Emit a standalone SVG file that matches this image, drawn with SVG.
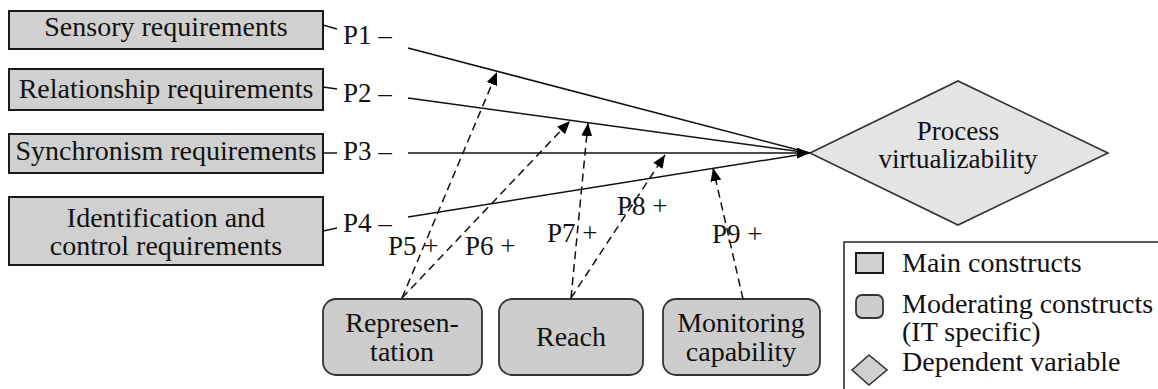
<svg xmlns="http://www.w3.org/2000/svg" width="1158" height="389" viewBox="0 0 1158 389">
<style>
text{font-family:'Liberation Serif','DejaVu Serif','Noto Serif',serif;font-size:28px;fill:#111}
.c{text-anchor:middle}
.lbl{font-size:27px}
.box{fill:#d0d0d0;stroke:#1a1a1a;stroke-width:2}
.mod{fill:#cdcdcd;stroke:#333;stroke-width:1.8}
.dia{fill:#e4e4e4;stroke:#333;stroke-width:1.6}
.ln{stroke:#111;stroke-width:1.5;fill:none}
.dash{stroke:#111;stroke-width:1.5;fill:none;stroke-dasharray:8 5}
</style>
<defs>
<marker id="ah" markerUnits="userSpaceOnUse" markerWidth="14" markerHeight="12" refX="13" refY="5.5" orient="auto">
<path d="M0,0 L13,5.5 L0,11 z" fill="#000"/>
</marker>
</defs>
<rect width="1158" height="389" fill="#fff"/>

<g id="sensory">
<rect class="box" x="9" y="11" width="314" height="38"/>
<text class="c" x="166" y="36">Sensory requirements</text>
</g>
<g id="relationship">
<rect class="box" x="9" y="69" width="314" height="41"/>
<text class="c" x="166" y="98">Relationship requirements</text>
</g>
<g id="synchronism">
<rect class="box" x="9" y="134" width="314" height="39"/>
<text class="c" x="166" y="160">Synchronism requirements</text>
</g>
<g id="identification">
<rect class="box" x="9" y="197" width="314" height="68"/>
<text class="c" x="166" y="227">Identification and</text>
<text class="c" x="166" y="255">control requirements</text>
</g>

<g id="process">
<polygon class="dia" points="810,153 958,81 1108,153 958,225"/>
<text class="c" x="958" y="140" style="font-size:27px">Process</text>
<text class="c" x="958" y="168" style="font-size:27px">virtualizability</text>
</g>

<g id="representation">
<rect class="mod" x="323" y="299" width="159" height="76" rx="13"/>
<text class="c" x="402" y="332">Represen-</text>
<text class="c" x="402" y="361">tation</text>
</g>
<g id="reach">
<rect class="mod" x="499" y="299" width="144" height="76" rx="13"/>
<text class="c" x="571" y="346">Reach</text>
</g>
<g id="monitoring">
<rect class="mod" x="663" y="299" width="157" height="76" rx="13"/>
<text class="c" x="741" y="332">Monitoring</text>
<text class="c" x="741" y="361">capability</text>
</g>

<g id="connectors">
<path class="ln" d="M323,25 L337,29"/>
<path class="ln" d="M323,87 L337,89"/>
<path class="ln" d="M323,153 L337,153"/>
<path class="ln" d="M323,231 L337,228"/>
<path class="ln" d="M408,48 L810,153"/>
<path class="ln" d="M408,98 L810,153"/>
<path class="ln" d="M408,153 L810,153" marker-end="url(#ah)"/>
<path class="ln" d="M408,217 L810,153"/>
<path class="dash" d="M402,298 L497,72" marker-end="url(#ah)"/>
<path class="dash" d="M402,298 L570,121" marker-end="url(#ah)"/>
<path class="dash" d="M571,298 L588,123" marker-end="url(#ah)"/>
<path class="dash" d="M571,298 L665,155" marker-end="url(#ah)"/>
<path class="dash" d="M743,299 L713,168" marker-end="url(#ah)"/>
<text class="lbl" x="343" y="44">P1 –</text>
<text class="lbl" x="343" y="102">P2 –</text>
<text class="lbl" x="343" y="160">P3 –</text>
<text class="lbl" x="343" y="232">P4 –</text>
<text class="lbl" x="388" y="255">P5 +</text>
<text class="lbl" x="465" y="255">P6 +</text>
<text class="lbl" x="547" y="242">P7 +</text>
<text class="lbl" x="617" y="215">P8 +</text>
<text class="lbl" x="712" y="243">P9 +</text>
</g>

<g id="legend">
<rect x="844" y="242" width="330" height="160" fill="#fff" stroke="#222" stroke-width="1.5"/>
<rect class="box" x="856" y="253" width="27" height="20"/>
<text x="902" y="272">Main constructs</text>
<rect class="mod" x="856" y="295" width="27" height="23" rx="6"/>
<text x="902" y="313">Moderating constructs</text>
<text x="902" y="341">(IT specific)</text>
<polygon class="dia" points="852,370 869,355 887,370 869,385" style="fill:#d0d0d0"/>
<text x="902" y="371">Dependent variable</text>
</g>
</svg>
